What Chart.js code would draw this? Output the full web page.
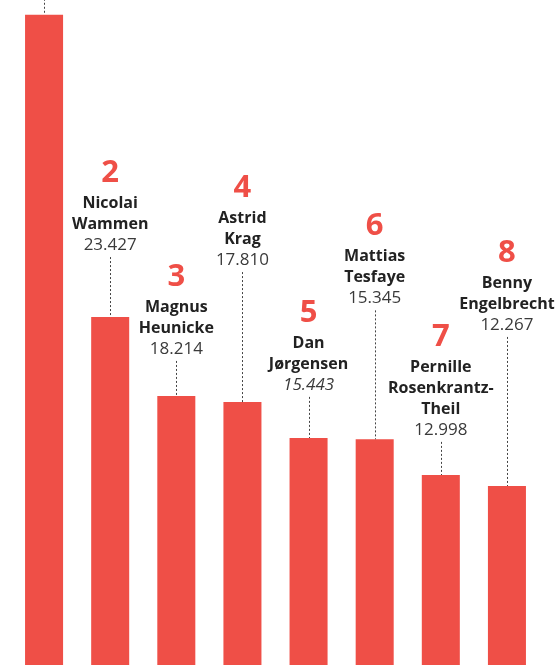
<!DOCTYPE html>
<html>
<head>
<meta charset="utf-8">
<script src="https://cdn.jsdelivr.net/npm/chart.js@4"></script>
<style>
  html, body { margin: 0; padding: 0; background: #fff; overflow: hidden; }
  #wrap { width: 558px; height: 665px; position: relative; }
</style>
</head>
<body>
<div id="wrap"><canvas id="chart"></canvas></div>
<script>
// Data
const ranks = ['1', '2', '3', '4', '5', '6', '7', '8'];
const names = [
    ['Mette', 'Frederiksen'],
    ['Nicolai', 'Wammen'],
    ['Magnus', 'Heunicke'],
    ['Astrid', 'Krag'],
    ['Dan', 'Jørgensen'],
    ['Mattias', 'Tesfaye'],
    ['Pernille', 'Rosenkrantz-', 'Theil'],
    ['Benny', 'Engelbrecht']
];
const votes = [43400, 23427, 18214, 17810, 15443, 15345, 12998, 12267];

// Styling
const RED = '#ef4f47';
const italicValue = [false, false, false, false, true, false, false, false];
// how far above the bar top the value line sits (px)
const leaderLift = [23, 67, 42, 137, 48, 136, 40, 156];

function formatDk(n) {
    return String(n).replace(/\B(?=(\d{3})+(?!\d))/g, '.');
}

const rankLabels = {
    id: 'rankLabels',
    afterDatasetsDraw(chart) {
        const ctx = chart.ctx;
        const meta = chart.getDatasetMeta(0);
        meta.data.forEach((bar, i) => {
            const x = bar.x;
            const top = bar.y;
            const base = top - leaderLift[i];
            const lx = Math.round(x) + 0.5;

            // dotted leader
            ctx.save();
            ctx.strokeStyle = '#444';
            ctx.lineWidth = 1;
            ctx.setLineDash([2, 2]);
            ctx.beginPath();
            ctx.moveTo(lx, base + 7);
            ctx.lineTo(lx, top);
            ctx.stroke();
            ctx.restore();

            ctx.save();
            ctx.textAlign = 'center';
            ctx.textBaseline = 'alphabetic';

            // value
            ctx.fillStyle = '#3a3a3a';
            ctx.font = (italicValue[i] ? 'italic ' : '') + '17px "Open Sans"';
            ctx.fillText(formatDk(votes[i]), x, base);

            // name lines
            ctx.fillStyle = '#222';
            ctx.font = 'bold 16px "Open Sans"';
            const lines = names[i];
            let y = base - 21;
            for (let k = lines.length - 1; k >= 0; k--) {
                ctx.fillText(lines[k], x, y);
                y -= 21;
            }

            // rank
            ctx.fillStyle = RED;
            ctx.font = 'bold 31px "Open Sans"';
            ctx.fillText(ranks[i], x, y + 21 - 26);
            ctx.restore();
        });
    }
};

new Chart(document.getElementById('chart'), {
    type: 'bar',
    data: {
        labels: ranks,
        datasets: [{
            data: votes,
            backgroundColor: RED,
            borderWidth: 0,
            barPercentage: 0.575,
            categoryPercentage: 1
        }]
    },
    options: {
        responsive: true,
        maintainAspectRatio: false,
        animation: false,
        events: [],
        layout: { padding: { left: 11, right: 18, top: 0, bottom: 0 } },
        plugins: {
            legend: { display: false },
            tooltip: { enabled: false }
        },
        scales: {
            x: { display: false },
            y: { display: false, min: 436, max: 44377 }
        }
    },
    plugins: [rankLabels]
});
</script>
</body>
</html>
